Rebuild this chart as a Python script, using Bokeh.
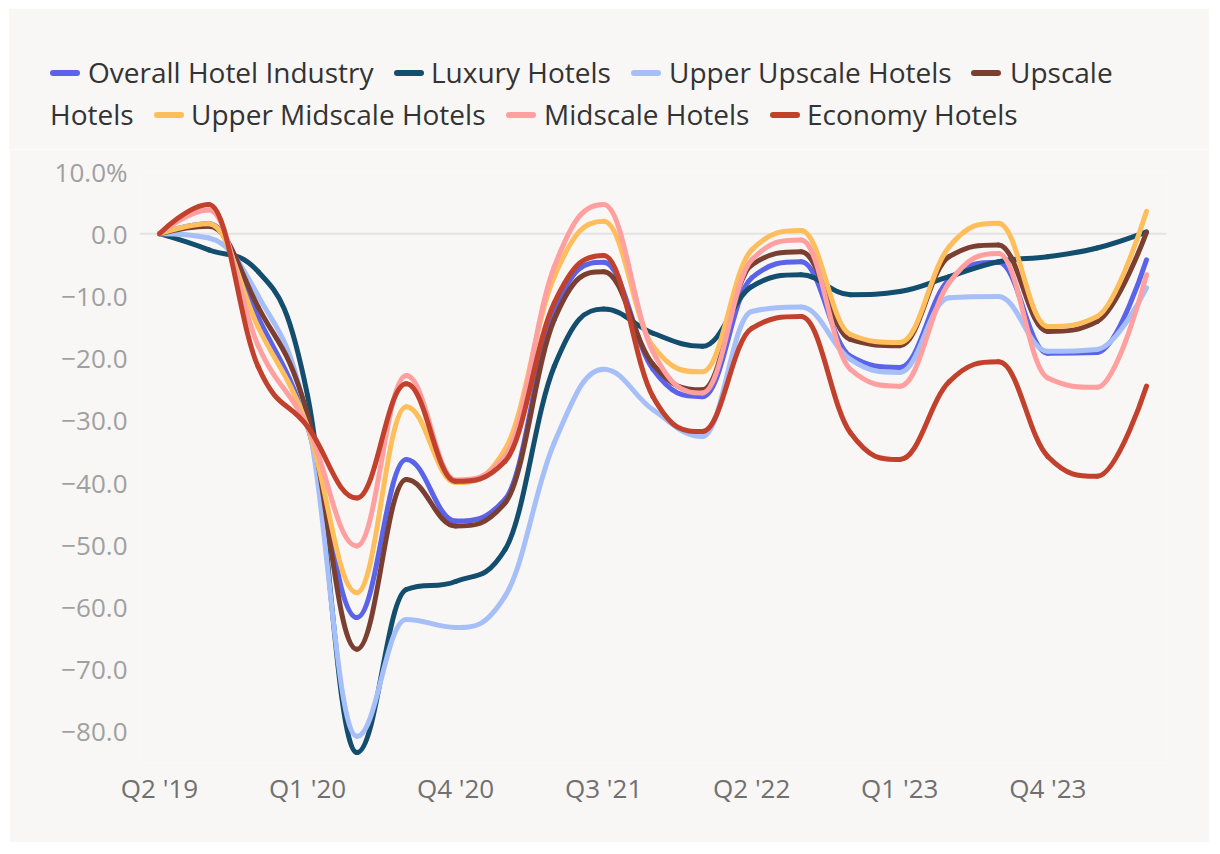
from bokeh.plotting import figure
from bokeh.models import (Span, FixedTicker, Range1d, ColumnDataSource, CustomJSTickFormatter, Div)
from bokeh.layouts import column
from bokeh.embed import file_html
from bokeh.resources import INLINE

# ---------------- data ----------------
quarters = ["Q2 '19", "Q3 '19", "Q4 '19", "Q1 '20", "Q2 '20", "Q3 '20", "Q4 '20",
            "Q1 '21", "Q2 '21", "Q3 '21", "Q4 '21", "Q1 '22", "Q2 '22", "Q3 '22",
            "Q4 '22", "Q1 '23", "Q2 '23", "Q3 '23", "Q4 '23", "Q1 '24", "Q2 '24"]

overall = [0, 1.6, -13.5, -31, -61.7, -36.3, -46.2, -42.7, -12.5, -4.6, -21.8, -26.2,
           -7.1, -4.5, -19.7, -21.5, -7.4, -4.6, -19.2, -19.1, -4.2]
luxury = [0, -2.6, -6.1, -26, -83.4, -57.2, -55.9, -50.8, -21.3, -12.1, -16, -18.1,
          -8.5, -6.6, -9.8, -9.3, -6.9, -4.5, -3.7, -2.3, 0.3]
upper_upscale = [0, -0.7, -10, -30, -80.8, -62, -63.3, -58.3, -33.6, -21.8, -28.3, -32.6,
                 -12.5, -11.8, -20.2, -22.3, -10.3, -10.1, -18.9, -18.6, -8.7]
upscale = [0, 1.2, -11.8, -29, -66.8, -39.5, -47, -43.3, -13.8, -6.1, -21, -25.1,
           -5, -2.9, -17, -18, -3.7, -1.8, -15.7, -14.1, 0.2]
upper_midscale = [0, 1.6, -15, -31, -57.7, -27.8, -40, -34.7, -6.9, 2, -18.1, -22.2,
                  -2.6, 0.5, -16.2, -17.5, -2.1, 1.7, -14.9, -13.3, 3.6]
midscale = [0, 3.8, -18, -31, -50.2, -22.8, -39.6, -35.8, -5.3, 4.7, -19, -25.6,
            -4.2, -1, -21.8, -24.5, -7.9, -3.2, -23.2, -24.7, -6.6]
economy = [0, 4.7, -21.4, -31, -42.5, -24.1, -39.8, -36.6, -11.1, -3.5, -26.2, -31.8,
           -15.2, -13.3, -32, -36.3, -23.8, -20.6, -35.8, -39, -24.5]

series_names = ["Overall Hotel Industry", "Luxury Hotels", "Upper Upscale Hotels",
                "Upscale Hotels", "Upper Midscale Hotels", "Midscale Hotels", "Economy Hotels"]
series_values = [overall, luxury, upper_upscale, upscale, upper_midscale, midscale, economy]
series_colors = ["#5b63e8", "#134e6f", "#a6bff9", "#7b3f32", "#ffbe5c", "#ff9f9f", "#c2412c"]

x_tick_idx = [0, 3, 6, 9, 12, 15, 18]
y_ticks = [10, 0, -10, -20, -30, -40, -50, -60, -70, -80]
y_tick_labels = ["10.0%", "0.0", "\u221210.0", "\u221220.0", "\u221230.0", "\u221240.0",
                 "\u221250.0", "\u221260.0", "\u221270.0", "\u221280.0"]

BG = "#f8f7f5"
FONT = "Open Sans"


def spline_segments(xs, ys, smoothing=1.5):
    """Highcharts-style spline: cubic bezier control points per segment."""
    n = len(xs)
    left = [(xs[i], ys[i]) for i in range(n)]
    right = [(xs[i], ys[i]) for i in range(n)]
    denom = smoothing + 1
    for i in range(1, n - 1):
        px, py = xs[i], ys[i]
        lx, ly = xs[i - 1], ys[i - 1]
        nx, ny = xs[i + 1], ys[i + 1]
        lcx = (smoothing * px + lx) / denom
        lcy = (smoothing * py + ly) / denom
        rcx = (smoothing * px + nx) / denom
        rcy = (smoothing * py + ny) / denom
        corr = ((rcy - lcy) * (rcx - px)) / (rcx - lcx) + py - rcy
        lcy += corr
        rcy += corr
        if lcy > ly and lcy > py:
            lcy = max(ly, py)
            rcy = 2 * py - lcy
        elif lcy < ly and lcy < py:
            lcy = min(ly, py)
            rcy = 2 * py - lcy
        if rcy > ny and rcy > py:
            rcy = max(ny, py)
            lcy = 2 * py - rcy
        elif rcy < ny and rcy < py:
            rcy = min(ny, py)
            lcy = 2 * py - rcy
        left[i] = (lcx, lcy)
        right[i] = (rcx, rcy)
    d = dict(x0=[], y0=[], x1=[], y1=[], cx0=[], cy0=[], cx1=[], cy1=[])
    for i in range(1, n):
        d["x0"].append(xs[i - 1]); d["y0"].append(ys[i - 1])
        d["x1"].append(xs[i]); d["y1"].append(ys[i])
        d["cx0"].append(right[i - 1][0]); d["cy0"].append(right[i - 1][1])
        d["cx1"].append(left[i][0]); d["cy1"].append(left[i][1])
    return d


# ---------------- legend strip (HTML, wrapped over two rows) ----------------
LEG_H = 140
row1, row2 = 64, 106
# (series index, row centre y, symbol left x, text left x, label)
legend_layout = [
    (0, row1, 41, 79, series_names[0]),
    (1, row1, 385, 422, series_names[1]),
    (2, row1, 622, 660, series_names[2]),
    (3, row1, 962, 1001, "Upscale"),
    (None, row2, None, 41, "Hotels"),
    (4, row2, 145, 182, series_names[4]),
    (5, row2, 497, 535, series_names[5]),
    (6, row2, 761, 798, series_names[6]),
]
parts = []
for idx, yy, sx, txx, lab in legend_layout:
    if idx is not None:
        parts.append(
            f'<span style="position:absolute;left:{sx}px;top:{yy - 3}px;width:30px;height:6px;'
            f'border-radius:3px;background:{series_colors[idx]};"></span>')
    parts.append(
        f'<span style="position:absolute;left:{txx}px;top:{yy - 20}px;line-height:38px;'
        f'white-space:nowrap;">{lab}</span>')
legend_html = (
    f'<div style="position:relative;width:1200px;height:{LEG_H}px;background:{BG};'
    f"font-family:'{FONT}';font-size:28px;color:#333333;margin:0;padding:0;\">"
    + "".join(parts) + "</div>")
legend_div = Div(text=legend_html, width=1200, height=LEG_H, margin=0,
                 styles={"background-color": BG})

# ---------------- chart ----------------
p = figure(width=1200, height=833 - LEG_H, x_range=Range1d(-0.405, 20.405),
           y_range=Range1d(-85, 10), output_backend="svg", toolbar_location=None,
           min_border_left=130, min_border_right=43, min_border_top=162 - LEG_H,
           min_border_bottom=80, margin=0)
p.background_fill_color = BG
p.border_fill_color = BG
p.outline_line_color = None
p.xgrid.visible = False
p.ygrid.visible = False

p.add_layout(Span(location=0, dimension="width", line_color="#e3e3e3", line_width=2,
                  level="underlay"))

xs = list(range(len(quarters)))
for vals, col in zip(series_values, series_colors):
    src = ColumnDataSource(spline_segments(xs, vals))
    p.bezier(x0="x0", y0="y0", x1="x1", y1="y1", cx0="cx0", cy0="cy0", cx1="cx1", cy1="cy1",
             source=src, line_color=col, line_width=5, line_cap="round", line_join="round")

p.xaxis.ticker = FixedTicker(ticks=x_tick_idx)
p.xaxis.formatter = CustomJSTickFormatter(args=dict(qlabels=quarters),
                                          code="return qlabels[Math.round(tick)] || '';")
p.yaxis.ticker = FixedTicker(ticks=y_ticks)
p.yaxis.formatter = CustomJSTickFormatter(args=dict(yvals=y_ticks, ylabs=y_tick_labels),
                                          code="const k = yvals.indexOf(tick); return k >= 0 ? ylabs[k] : '';")
for ax in (p.xaxis[0], p.yaxis[0]):
    ax.axis_line_color = None
    ax.major_tick_line_color = None
    ax.minor_tick_line_color = None
    ax.major_tick_out = 0
    ax.major_tick_in = 0
    ax.minor_tick_out = 0
    ax.major_label_text_font = FONT
    ax.major_label_text_font_size = "26px"
p.xaxis.major_label_text_color = "#707070"
p.xaxis.major_label_standoff = 7
p.yaxis.major_label_text_color = "#a0a0a0"
p.yaxis.major_label_standoff = 12

layout = column(legend_div, p, spacing=0, margin=(9, 0, 0, 9))
open("out.html", "w").write(file_html(layout, INLINE))
